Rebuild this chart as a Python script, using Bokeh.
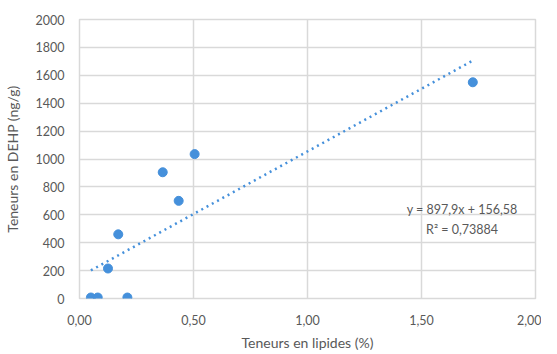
from bokeh.plotting import figure
from bokeh.models import FixedTicker, Label, ColumnDataSource
from bokeh.embed import file_html
from bokeh.resources import INLINE

# Data
lipides = [0.05, 0.08, 0.21, 0.125, 0.17, 0.365, 0.435, 0.505, 1.725]
dehp = [7, 7, 7, 215, 460, 905, 700, 1035, 1550]

slope = 897.9
intercept = 156.58
r2_text = "R² = 0,73884"
eq_text = "y = 897,9x + 156,58"

x_ticks = [0, 0.5, 1.0, 1.5, 2.0]
x_tick_labels = ["0,00", "0,50", "1,00", "1,50", "2,00"]
y_ticks = [0, 200, 400, 600, 800, 1000, 1200, 1400, 1600, 1800, 2000]

x_title = "Teneurs en lipides (%)"
y_title = "Teneurs en DEHP (ng/g)"

FONT = "Lato"
GREY = "#595959"
GRID = "#d9d9d9"
BLUE = "#4590db"

p = figure(width=541, height=353, x_range=(0, 2), y_range=(0, 2000),
           output_backend="svg", toolbar_location=None,
           min_border_left=69, min_border_right=6, min_border_top=19, min_border_bottom=10)

p.background_fill_color = "white"
p.border_fill_color = "white"
p.outline_line_color = GRID
p.outline_line_width = 1.5

p.xaxis.ticker = FixedTicker(ticks=x_ticks)
p.xaxis.major_label_overrides = {t: l for t, l in zip(x_ticks, x_tick_labels)}
p.yaxis.ticker = FixedTicker(ticks=y_ticks)

for ax in (p.xaxis[0], p.yaxis[0]):
    ax.axis_line_color = None
    ax.major_tick_line_color = None
    ax.minor_tick_line_color = None
    ax.major_tick_out = 0
    ax.major_tick_in = 0
    ax.minor_tick_out = 0
    ax.minor_tick_in = 0
    ax.major_label_text_font = FONT
    ax.major_label_text_font_size = "12.5px"
    ax.major_label_text_color = GREY
    ax.axis_label_text_font = FONT
    ax.axis_label_text_font_size = "14px"
    ax.axis_label_text_font_style = "normal"
    ax.axis_label_text_color = GREY

p.xaxis.axis_label = x_title
p.yaxis.axis_label = y_title
p.xaxis.major_label_standoff = 16
p.yaxis.major_label_standoff = 15
p.xaxis.axis_label_standoff = 6
p.yaxis.axis_label_standoff = 12

p.xgrid.grid_line_color = GRID
p.ygrid.grid_line_color = GRID
p.xgrid.grid_line_width = 1.5
p.ygrid.grid_line_width = 1.5

# Trend line
xmin, xmax = min(lipides), max(lipides)
p.line([xmin, xmax], [slope * xmin + intercept, slope * xmax + intercept],
       line_color=BLUE, line_width=2.5, line_dash="2 4")

src = ColumnDataSource(data=dict(x=lipides, y=dehp))
p.scatter("x", "y", source=src, size=9, fill_color=BLUE, line_color=BLUE)

p.add_layout(Label(x=1.678, y=640, text=eq_text, text_align="center", text_baseline="middle",
                   text_font=FONT, text_font_size="12.5px", text_color=GREY))
p.add_layout(Label(x=1.678, y=496, text=r2_text, text_align="center", text_baseline="middle",
                   text_font=FONT, text_font_size="12.5px", text_color=GREY))

open("out.html", "w").write(file_html(p, INLINE))
